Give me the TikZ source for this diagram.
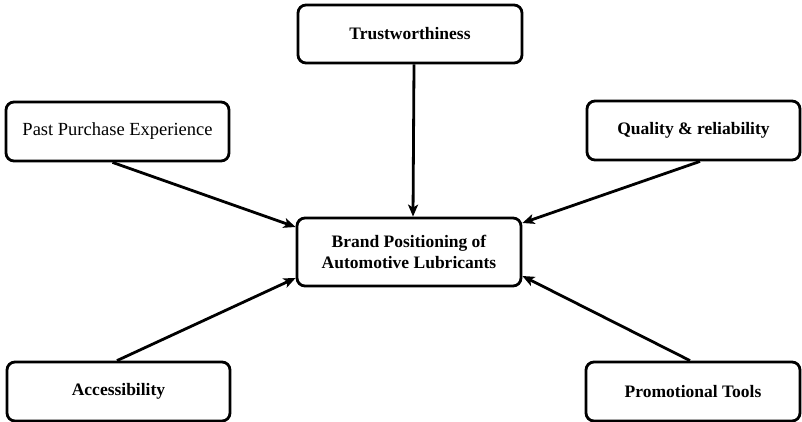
\documentclass[tikz,border=0pt]{standalone}
\usepackage{fontspec}
\setmainfont{Liberation Serif}
\usetikzlibrary{arrows.meta,calc}
\begin{document}
\begin{tikzpicture}[x=1pt,y=-1pt,
  box/.style={draw=black,line width=2.8pt,rounded corners=8pt,minimum width=#1,minimum height=59pt,inner sep=0pt,align=center,font=\fontsize{17.5}{21}\selectfont\bfseries},
  box/.default=223pt,
  conn/.style={line width=2.8pt,-{Stealth[length=12pt,width=10pt,inset=3pt]}}]
\useasboundingbox[fill=white] (0,0) rectangle (802,422);
\node[box=224pt,minimum height=58pt] (trust) at (410,34) {Trustworthiness};
\node[box,font=\fontsize{18.5}{21}\selectfont] (past) at (117.5,131.5) {Past Purchase Experience};
\node[box=213pt] (qual) at (693.5,130.5) {Quality \& reliability};
\node[box=224pt,minimum height=68pt] (central) at (409,252) {Brand Positioning of\\Automotive Lubricants};
\node[box] (acc) at (118.5,391.5) {Accessibility};
\node[box=214pt] (promo) at (693,391.5) {Promotional Tools};
\draw[conn] ([xshift=-5pt]past.south) -- ([yshift=25pt]central.west);
\draw[conn] ([xshift=4pt]trust.south) -- ([xshift=4pt]central.north);
\draw[conn] ([xshift=6.5pt]qual.south) -- ([yshift=29pt]central.east);
\draw[conn] ([xshift=-1.5pt]acc.north) -- ([yshift=-26pt]central.west);
\draw[conn] ([xshift=-3pt]promo.north) -- ([yshift=-24pt]central.east);
\end{tikzpicture}
\end{document}
